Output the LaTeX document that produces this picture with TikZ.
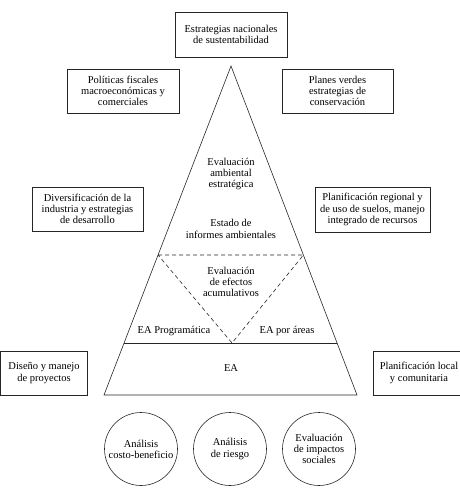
\documentclass[tikz,border=0pt]{standalone}
\usepackage{fontspec}
\setmainfont{Liberation Serif}
\usetikzlibrary{positioning, calc}

\tikzset{
  txt/.style={align=center, font=\fontsize{10.5}{11.2}\selectfont},
  caja/.style={txt, draw, inner sep=0pt},
  circulo/.style={txt, draw, circle, minimum size=73pt, inner sep=0pt},
}

\begin{document}
\begin{tikzpicture}[x=1pt, y=-1pt, line width=0.6pt, draw=black!85]
    \clip (0,0) rectangle (460,504);

    % pyramid
    \coordinate (cima) at (231,66);
    \coordinate (bizq) at (104,395);
    \coordinate (bder) at (357,395);
    \draw (cima) -- (bizq) -- (bder) -- cycle;
    \draw ($(cima)!277/329!(bizq)$) -- ($(cima)!277/329!(bder)$);

    % dashed inner triangle
    \coordinate (dizq) at ($(cima)!189/329!(bizq)$);
    \coordinate (dder) at ($(cima)!189/329!(bder)$);
    \coordinate (dfondo) at (232,343);
    \draw[dash pattern=on 4pt off 3pt] (dizq) -- (dder) -- (dfondo) -- cycle;

    % text inside the pyramid
    \node[txt] (eae) at (231,174) {Evaluación\\ambiental\\estratégica};
    \node[txt] (estado) at (231,229) {Estado de\\informes ambientales};
    \node[txt] (acum) at (231,282) {Evaluación\\de efectos\\acumulativos};
    \node[txt] (prog) at (174,331) {EA Programática};
    \node[txt] (areas) at (287,331) {EA por áreas};
    \node[txt] (ea) at (231,368) {EA};

    % boxes around
    \node[caja, minimum width=112pt, minimum height=45pt] (nacional) at (231,34.5) {Estrategias nacionales\\de sustentabilidad};
    \node[caja, minimum width=112pt, minimum height=44pt] (fiscal) at (123,91) {Políticas fiscales\\macroeconómicas y\\comerciales};
    \node[caja, minimum width=111pt, minimum height=44pt] (verdes) at (337.5,91) {Planes verdes\\estrategias de\\conservación};
    \node[caja, minimum width=111pt, minimum height=44pt] (divers) at (87.5,209) {Diversificación de la\\industria y estrategias\\de desarrollo};
    \node[caja, minimum width=115pt, minimum height=45pt] (regional) at (372.5,209.5) {Planificación regional y\\de uso de suelos, manejo\\integrado de recursos};
    \node[caja, minimum width=87pt, minimum height=44pt] (diseno) at (44,373) {Diseño y manejo\\de proyectos};
    \node[caja, minimum width=92pt, minimum height=44pt] (local) at (419,373) {Planificación local\\y comunitaria};

    % circles below
    \node[circulo] (costo) at (141,449) {Análisis\\costo-beneficio};
    \node[circulo] (riesgo) at (230,449) {Análisis\\de riesgo};
    \node[circulo] (social) at (319,449) {Evaluación\\de impactos\\sociales};
\end{tikzpicture}
\end{document}
